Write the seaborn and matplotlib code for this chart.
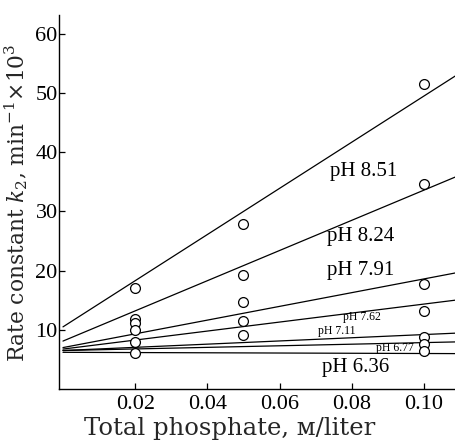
import numpy as np
import pandas as pd
import matplotlib
matplotlib.use("Agg")
import matplotlib.pyplot as plt
import seaborn as sns

# ---- data ----
ph_labels = ["pH 8.51", "pH 8.24", "pH 7.91", "pH 7.62", "pH 7.11", "pH 6.77", "pH 6.36"]
intercepts = [10.5, 8.1, 7.0, 6.75, 6.5, 6.5, 6.2]
slopes = [390, 255, 116, 76, 27, 13.4, -2]

pt_x = [0.02, 0.05, 0.10,
        0.02, 0.05, 0.10,
        0.02, 0.05, 0.10,
        0.02, 0.05, 0.10,
        0.02, 0.05, 0.10,
        0.10,
        0.02, 0.10]
pt_y = [17.0, 27.8, 51.6,
        11.9, 19.3, 34.7,
        11.2, 14.7, 17.8,
        9.9, 11.5, 13.2,
        7.9, 9.2, 8.75,
        7.6,
        6.0, 6.45]

x_ticks = [0.02, 0.04, 0.06, 0.08, 0.10]
x_ticklabels = ["0.02", "0.04", "0.06", "0.08", "0.10"]
y_ticks = [10, 20, 30, 40, 50, 60]

# ---- style ----
sns.set_theme(style="ticks")
plt.rcParams["font.family"] = ["Liberation Serif", "DejaVu Serif"]
plt.rcParams["mathtext.fontset"] = "custom"
plt.rcParams["mathtext.rm"] = "DejaVu Serif"
plt.rcParams["mathtext.it"] = "DejaVu Serif:italic"

fig = plt.figure(figsize=(4.56, 4.41), dpi=100)
ax = fig.add_axes([0.1294, 0.1179, 0.8706, 0.8481])

xmin, xmax = -0.0011, 0.1089
ymin, ymax = 0, 63.2

# lines
rows = []
for lab, b, m in zip(ph_labels, intercepts, slopes):
    for xv in (0.0, xmax):
        rows.append({"x": xv, "y": b + m * xv, "ph": lab})
lines_df = pd.DataFrame(rows)
sns.lineplot(data=lines_df, x="x", y="y", units="ph", estimator=None,
             color="black", lw=0.9, ax=ax, legend=False)

pts_df = pd.DataFrame({"x": pt_x, "y": pt_y})
sns.scatterplot(data=pts_df, x="x", y="y", ax=ax, s=50, marker="o",
                facecolor="white", edgecolor="black", linewidth=0.9, zorder=3)

# labels on lines
label_pos = [(0.0834, 36.8, 15), (0.0826, 25.8, 15), (0.0826, 20.1, 15),
             (0.0828, 12.2, 8.5), (0.0759, 9.8, 8.5), (0.0920, 6.9, 8.5),
             (0.0812, 3.7, 15)]
for lab, (lx, ly, fs) in zip(ph_labels, label_pos):
    ax.text(lx, ly, lab, ha="center", va="center", fontsize=fs, color="black")

ax.set_xlim(xmin, xmax)
ax.set_ylim(ymin, ymax)
ax.set_xticks(x_ticks)
ax.set_xticklabels(x_ticklabels)
ax.set_yticks(y_ticks)
ax.tick_params(axis="both", direction="in", length=4, width=0.9,
               labelsize=16, colors="black")
ax.tick_params(axis="x", pad=4)
ax.tick_params(axis="y", pad=1)
for s in ["top", "right"]:
    ax.spines[s].set_visible(False)
for s in ["left", "bottom"]:
    ax.spines[s].set_color("black")
    ax.spines[s].set_linewidth(1.0)

xl = ax.set_xlabel("Total phosphate, м/liter", fontsize=16, family="DejaVu Serif")
yl = ax.set_ylabel("Rate constant $k_2$, min$^{-1}$$\\times$10$^{3}$", fontsize=16,
                   family="DejaVu Serif")
ax.xaxis.set_label_coords(0.431, -0.076)
ax.yaxis.set_label_coords(-0.072, 0.499)

# fit label widths to the reference
fig.canvas.draw()
r = fig.canvas.get_renderer()
for t, target, horiz in ((xl, 290, True), (yl, 318, False)):
    bb = t.get_window_extent(renderer=r)
    size = bb.width if horiz else bb.height
    t.set_fontsize(t.get_fontsize() * target / size)

fig.savefig("out.png", dpi=100, facecolor="white")
